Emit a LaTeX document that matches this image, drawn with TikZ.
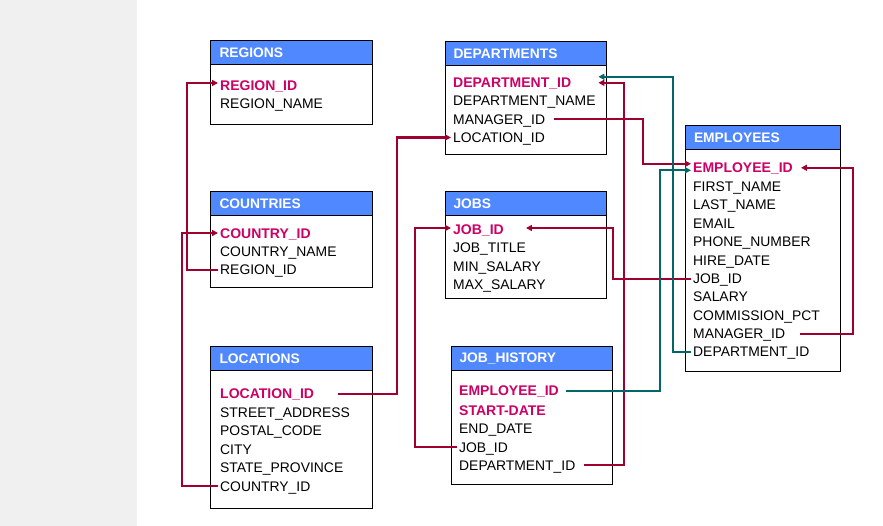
\documentclass[tikz,border=0pt]{standalone}
\usepackage{fontspec}
\setmainfont{Liberation Sans}
\usetikzlibrary{arrows.meta}
\definecolor{hdr}{RGB}{80,136,255}
\definecolor{keyc}{RGB}{204,0,102}
\definecolor{fkred}{RGB}{160,0,48}
\definecolor{fkteal}{RGB}{0,102,102}
\definecolor{panel}{RGB}{240,240,240}
\begin{document}
\begin{tikzpicture}[x=1pt,y=-1pt,
  tbl/.style={draw=black, line width=1pt, fill=white, anchor=north west, inner sep=0pt},
  hdrbox/.style={draw=black, line width=1pt, fill=hdr, anchor=north west, inner sep=0pt,
    minimum height=24pt, text=white, align=left,
    font=\fontsize{13.8}{14}\selectfont\bfseries},
  row/.style={anchor=west, inner xsep=2pt, inner ysep=0pt, text height=9.8pt, text depth=0pt,
    font=\fontsize{13.9}{14}\selectfont},
  keyrow/.style={row, text=keyc, font=\fontsize{14}{14}\selectfont\bfseries},
  fk/.style={draw=fkred, line width=2.2pt, -{Triangle[length=6pt,width=6pt]}},
  fkt/.style={fk, draw=fkteal},
]
\useasboundingbox (0,0) rectangle (883,526);
\fill[white] (0,0) rectangle (883,526);
\fill[panel] (0,0) rectangle (137,526);

% REGIONS
\node[tbl, minimum width=162pt, minimum height=84pt] (regions) at (210,40) {};
\node[hdrbox, minimum width=162pt, text width=144pt] (regions-h) at (210,40) {REGIONS};
\node[keyrow] (r-id) at (218,86) {REGION\_ID};
\node[row] (r-name) at (218,104) {REGION\_NAME};

% COUNTRIES
\node[tbl, minimum width=162pt, minimum height=96pt] (countries) at (210,191) {};
\node[hdrbox, minimum width=162pt, text width=144pt] (countries-h) at (210,191) {COUNTRIES};
\node[keyrow] (c-id) at (218,234) {COUNTRY\_ID};
\node[row] (c-name) at (218,252) {COUNTRY\_NAME};
\node[row] (c-reg) at (218,270) {REGION\_ID};

% LOCATIONS
\node[tbl, minimum width=162pt, minimum height=162pt] (locations) at (210,346) {};
\node[hdrbox, minimum width=162pt, text width=144pt] (locations-h) at (210,346) {LOCATIONS};
\node[keyrow] (l-id) at (218,394) {LOCATION\_ID};
\node[row] (l-street) at (218,413) {STREET\_ADDRESS};
\node[row] (l-postal) at (218,431) {POSTAL\_CODE};
\node[row] (l-city) at (218,449.5) {CITY};
\node[row] (l-state) at (218,468) {STATE\_PROVINCE};
\node[row] (l-cty) at (218,486.3) {COUNTRY\_ID};

% DEPARTMENTS
\node[tbl, minimum width=161pt, minimum height=113pt] (departments) at (445,41) {};
\node[hdrbox, minimum width=161pt, text width=145pt] (departments-h) at (445,41) {DEPARTMENTS};
\node[keyrow] (d-id) at (451,82.8) {DEPARTMENT\_ID};
\node[row] (d-name) at (451,101) {DEPARTMENT\_NAME};
\node[row] (d-mgr) at (451,119.2) {MANAGER\_ID};
\node[row] (d-loc) at (451,137.5) {LOCATION\_ID};

% JOBS
\node[tbl, minimum width=161pt, minimum height=107pt] (jobs) at (445,191) {};
\node[hdrbox, minimum width=161pt, text width=145pt] (jobs-h) at (445,191) {JOBS};
\node[keyrow] (j-id) at (451,230) {JOB\_ID};
\node[row] (j-title) at (451,248) {JOB\_TITLE};
\node[row] (j-min) at (451,266.3) {MIN\_SALARY};
\node[row] (j-max) at (451,284.7) {MAX\_SALARY};

% JOB_HISTORY
\node[tbl, minimum width=161pt, minimum height=138pt] (jobhist) at (451,346) {};
\node[hdrbox, minimum width=161pt, text width=145pt] (jobhist-h) at (451,346) {JOB\_HISTORY};
\node[keyrow] (h-emp) at (457,391) {EMPLOYEE\_ID};
\node[keyrow] (h-start) at (457,410.3) {START-DATE};
\node[row] (h-end) at (457,428.7) {END\_DATE};
\node[row] (h-job) at (457,447.2) {JOB\_ID};
\node[row] (h-dept) at (457,465.3) {DEPARTMENT\_ID};

% EMPLOYEES
\node[tbl, minimum width=155pt, minimum height=246pt] (employees) at (685,125) {};
\node[hdrbox, minimum width=155pt, text width=138pt] (employees-h) at (685,125) {EMPLOYEES};
\node[keyrow] (e-id) at (691,167.8) {EMPLOYEE\_ID};
\node[row] (e-first) at (691,187) {FIRST\_NAME};
\node[row] (e-last) at (691,205) {LAST\_NAME};
\node[row] (e-email) at (691,223.8) {EMAIL};
\node[row] (e-phone) at (691,242) {PHONE\_NUMBER};
\node[row] (e-hire) at (691,260.3) {HIRE\_DATE};
\node[row] (e-job) at (691,278.7) {JOB\_ID};
\node[row] (e-sal) at (691,297) {SALARY};
\node[row] (e-comm) at (691,315.3) {COMMISSION\_PCT};
\node[row] (e-mgr) at (691,333.7) {MANAGER\_ID};
\node[row] (e-dept) at (691,352) {DEPARTMENT\_ID};

% connectors
\draw[fk] (c-reg.west) -- ++(-31,0) |- ([yshift=3pt]r-id.west);
\draw[fk] (l-cty.west) -- ++(-36,0) |- ([yshift=1pt]c-id.west);
\draw[fk] ([xshift=22pt]l-id.east) -| ([xshift=-54pt]d-loc.west) -- (d-loc.west);
\draw[fk] (h-job.west) -- ++(-42,0) |- ([yshift=2pt]j-id.west);
\draw[fk] (e-job.west) -- ++(-78,0) |- ([xshift=20pt,yshift=2pt]j-id.east);
\draw[fk] ([xshift=7pt]d-mgr.east) -| ([xshift=-48pt,yshift=4pt]e-id.west) -- ([yshift=4pt]e-id.west);
\draw[fk] ([xshift=6pt]h-dept.east) -| ([xshift=51pt]d-id.east) -- ([xshift=25pt]d-id.east);
\draw[fkt] (e-dept.west) -- ++(-18,0) |- ([xshift=25pt,yshift=6pt]d-id.east);
\draw[fkt] ([xshift=5pt]h-emp.east) -| ([xshift=-31pt,yshift=-2.5pt]e-id.west) -- ([yshift=-2.5pt]e-id.west);
\draw[fk] ([xshift=13pt]e-mgr.east) -- ++(53,0) |- ([xshift=6pt]e-id.east);
\end{tikzpicture}
\end{document}
